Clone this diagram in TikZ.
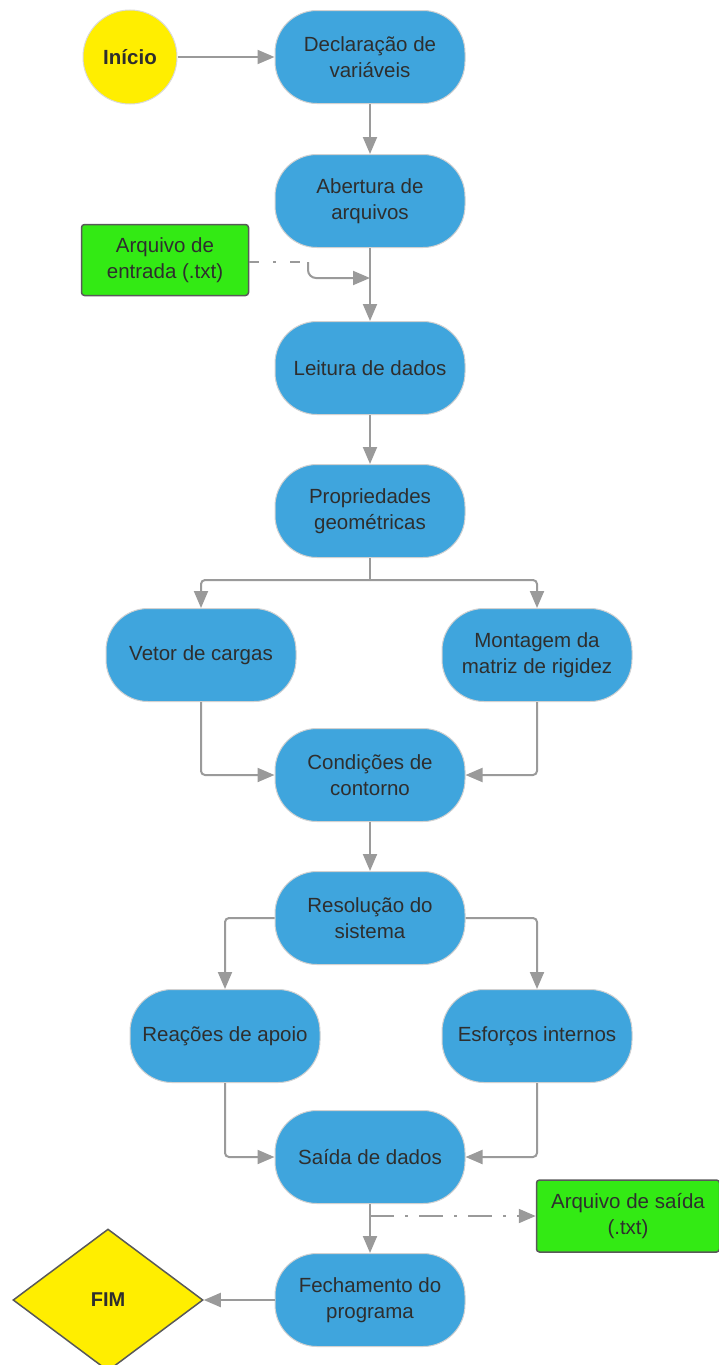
\documentclass[tikz,border=0pt]{standalone}
\usepackage{fontspec}
\setmainfont{Liberation Sans}
\usetikzlibrary{arrows.meta,shapes.geometric}
\definecolor{procblue}{HTML}{3FA5DD}
\definecolor{startyellow}{HTML}{FFEE00}
\definecolor{filegreen}{HTML}{33EA14}
\definecolor{linegray}{HTML}{9A9A9A}
\definecolor{txtgray}{HTML}{2E2E2E}
\begin{document}
\begin{tikzpicture}[x=1pt,y=-1pt,
  font=\fontsize{20.5}{25.5}\selectfont,
  proc/.style={rectangle, rounded corners=42pt, fill=procblue, draw=black!18, line width=1pt,
    minimum width=190pt, minimum height=93pt, align=center, text=txtgray, inner sep=0pt},
  startnode/.style={circle, fill=startyellow, draw=black!15, line width=1pt, minimum size=94pt,
    font=\fontsize{20.5}{25.5}\selectfont\bfseries, text=txtgray, inner sep=0pt},
  endnode/.style={diamond, fill=startyellow, draw=black!65, line width=1.5pt, minimum width=190pt,
    minimum height=142pt, font=\fontsize{20}{25}\selectfont\bfseries, text=txtgray, inner sep=0pt},
  filebox/.style={rectangle, rounded corners=3pt, fill=filegreen, draw=black!65, line width=1.5pt,
    minimum width=167pt, minimum height=71pt, align=center, text=txtgray, inner sep=0pt},
  link/.style={draw=linegray, line width=2pt, rounded corners=4pt},
  tip/.style={-{Triangle[length=17pt,width=14pt]}},
  dashdotline/.style={dash pattern=on 24pt off 11pt on 3pt off 11pt}
]
\useasboundingbox (0,0) rectangle (719,1365);

\node[startnode] (ini) at (130,57) {Início};
\node[proc] (decl) at (370,57) {Declaração de\\variáveis};
\node[proc] (abert) at (370,201) {Abertura de\\arquivos};
\node[filebox] (ent) at (165,260) {Arquivo de\\entrada (.txt)};
\node[proc] (leit) at (370,368) {Leitura de dados};
\node[proc] (prop) at (370,511) {Propriedades\\geométricas};
\node[proc] (vet) at (201,655) {Vetor de cargas};
\node[proc] (mont) at (537,655) {Montagem da\\matriz de rigidez};
\node[proc] (cond) at (370,775) {Condições de\\contorno};
\node[proc] (res) at (370,918) {Resolução do\\sistema};
\node[proc] (reac) at (225,1036) {Reações de apoio};
\node[proc] (esf) at (537,1036) {Esforços internos};
\node[proc] (said) at (370,1157) {Saída de dados};
\node[filebox, minimum width=183pt, minimum height=72pt] (arqs) at (628,1216) {Arquivo de saída\\(.txt)};
\node[proc] (fech) at (370,1300) {Fechamento do\\programa};
\node[endnode] (fim) at (108,1300) {FIM};

\coordinate (jin) at (370,278);
\coordinate (jdash) at (308,262);
\coordinate (br) at (370,580);
\coordinate (jout) at (370,1216);

\draw[link,tip] (ini.east) -- (decl.west);
\draw[link,tip] (decl) -- (abert);
\draw[link,tip] (abert) -- (leit);
\draw[link,dash pattern=on 10pt off 14pt on 3pt off 14pt on 10pt off 20pt] (ent.east |- jdash) -- (jdash);
\draw[link,tip,rounded corners=8pt] (jdash) -- (jdash |- jin) -- (jin);
\draw[link,tip] (leit) -- (prop);
\draw[link] (prop) -- (br);
\draw[link,tip] (br) -| (vet.north);
\draw[link,tip] (br) -| (mont.north);
\draw[link,tip] (vet.south) |- (cond.west);
\draw[link,tip] (mont.south) |- (cond.east);
\draw[link,tip] (cond) -- (res);
\draw[link,tip] (res.west) -| (reac.north);
\draw[link,tip] (res.east) -| (esf.north);
\draw[link,tip] (reac.south) |- (said.west);
\draw[link,tip] (esf.south) |- (said.east);
\draw[link,tip] (said) -- (fech);
\draw[link,tip,dashdotline] (jout) -- (arqs.west);
\draw[link,tip] (fech) -- (fim);
\end{tikzpicture}
\end{document}
